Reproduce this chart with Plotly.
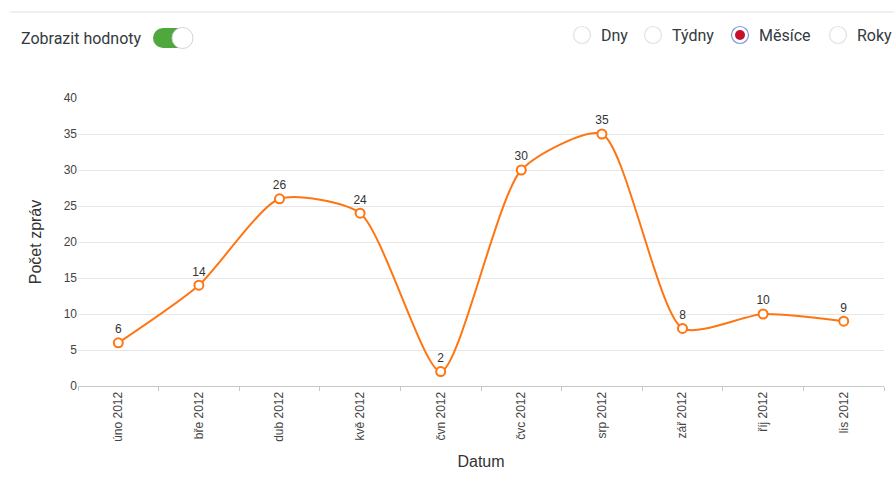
import plotly.graph_objects as go

months = ["úno 2012", "bře 2012", "dub 2012", "kvě 2012", "čvn 2012",
          "čvc 2012", "srp 2012", "zář 2012", "říj 2012", "lis 2012"]
counts = [6, 14, 26, 24, 2, 30, 35, 8, 10, 9]
y_ticks = [0, 5, 10, 15, 20, 25, 30, 35, 40]
radio_labels = ["Dny", "Týdny", "Měsíce", "Roky"]
selected_radio = "Měsíce"
toggle_label = "Zobrazit hodnoty"

W, H = 894, 488
L, R, T, B = 78, 884, 98, 386
ORANGE = "#ff7512"

def px(x):
    return (x - L) / (R - L)

def py(y):
    return (B - y) / (B - T)

fig = go.Figure()
fig.add_trace(go.Scatter(
    x=months, y=counts,
    mode="lines+markers+text",
    text=[str(c) for c in counts],
    textposition="top center",
    textfont=dict(family="Liberation Sans, Arial", size=12, color="#333333"),
    line=dict(color=ORANGE, width=2, shape="spline", smoothing=0.65),
    marker=dict(size=9, color="white", line=dict(color=ORANGE, width=2)),
    cliponaxis=False,
    hoverinfo="x+y",
    showlegend=False,
))

shapes = []
annotations = []

# top separator
shapes.append(dict(type="line", xref="paper", yref="paper",
                   x0=px(10), x1=px(894), y0=py(12), y1=py(12),
                   line=dict(color="#e8ebee", width=1.5)))

# toggle label
annotations.append(dict(text=toggle_label, xref="paper", yref="paper",
                        x=px(19), y=py(38), xanchor="left", yanchor="middle",
                        showarrow=False,
                        font=dict(family="Roboto", size=16, color="#333a40")))
# toggle switch
cy = 38
r = 10
shapes.append(dict(type="rect", xref="paper", yref="paper",
                   x0=px(163), x1=px(183), y0=py(cy - r), y1=py(cy + r),
                   fillcolor="#4fa83d", line=dict(width=0)))
shapes.append(dict(type="circle", xref="paper", yref="paper",
                   x0=px(153), x1=px(173), y0=py(cy - r), y1=py(cy + r),
                   fillcolor="#4fa83d", line=dict(width=0)))
shapes.append(dict(type="circle", xref="paper", yref="paper",
                   x0=px(172), x1=px(193), y0=py(cy - 10.5), y1=py(cy + 10.5),
                   fillcolor="white", line=dict(color="#d0d4d8", width=1)))

# radio buttons
radio_cx = [582, 653, 740, 838]
for cx, lab in zip(radio_cx, radio_labels):
    sel = lab == selected_radio
    shapes.append(dict(type="circle", xref="paper", yref="paper",
                       x0=px(cx - 8.5), x1=px(cx + 8.5), y0=py(35 - 8.5), y1=py(35 + 8.5),
                       fillcolor="white",
                       line=dict(color="#7f95d8" if sel else "#dfe2e6", width=1.2)))
    if sel:
        shapes.append(dict(type="circle", xref="paper", yref="paper",
                           x0=px(cx - 5), x1=px(cx + 5), y0=py(35 - 5), y1=py(35 + 5),
                           fillcolor="#c8102e", line=dict(width=0)))
    annotations.append(dict(text=lab, xref="paper", yref="paper",
                            x=px(cx + 17), y=py(35), xanchor="left", yanchor="middle",
                            showarrow=False,
                            font=dict(family="Roboto", size=16, color="#333a40")))

fig.update_layout(
    width=W, height=H,
    margin=dict(l=L, r=W - R, t=T, b=H - B),
    paper_bgcolor="white", plot_bgcolor="white",
    shapes=shapes, annotations=annotations,
    font=dict(family="Liberation Sans, Arial", color="#444444"),
    xaxis=dict(
        type="category",
        tickangle=-90,
        tickfont=dict(size=12, color="#444444"),
        showgrid=False,
        showline=True, linecolor="#c8c8c8", linewidth=1,
        ticks="outside", ticklen=4, tickcolor="#c8c8c8",
        tickson="boundaries",
        range=[-0.5, len(months) - 0.5],
        title=dict(text="Datum", font=dict(size=16, color="#333333"), standoff=14),
        zeroline=False,
    ),
    yaxis=dict(
        range=[0, 40],
        tickvals=y_ticks,
        tickfont=dict(size=12, color="#444444"),
        showgrid=True, gridcolor="#e6e6e6", gridwidth=1,
        showline=False, zeroline=False,
        ticks="", ticklen=0,
        title=dict(text="Počet zpráv", font=dict(size=16, color="#333333"), standoff=18),
    ),
)

fig.write_html(
    "out.html",
    config={"displayModeBar": False},
    post_script="document.body.style.margin='0';document.body.style.overflow='hidden';",
)
